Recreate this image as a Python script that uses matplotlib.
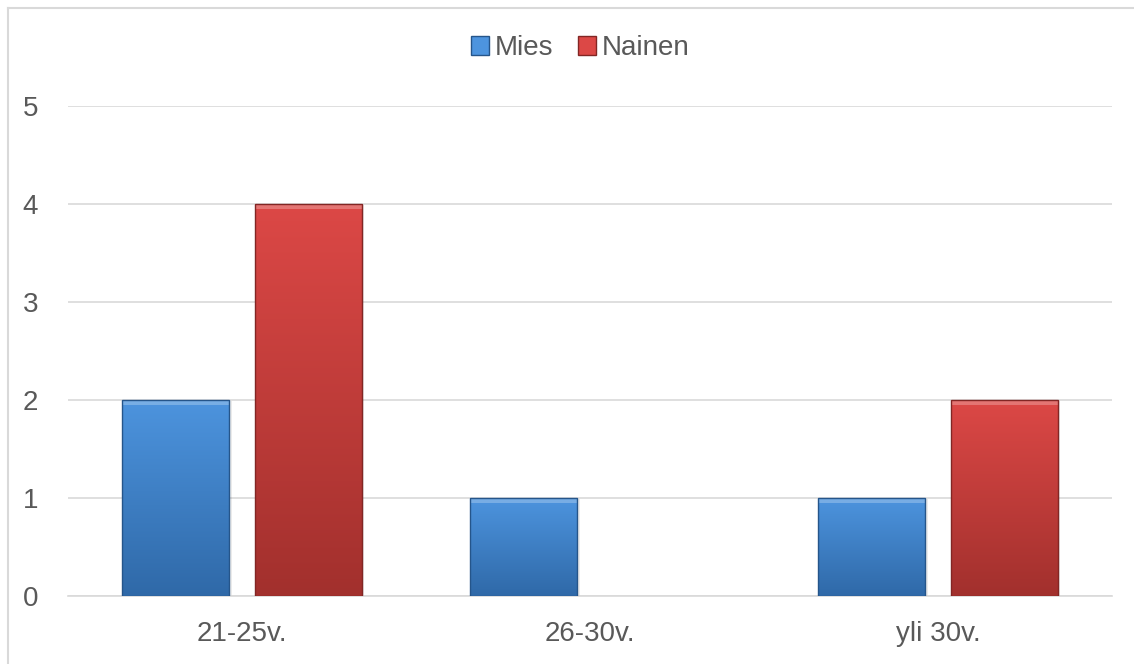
"""Excel-style grouped bar chart: age groups by gender."""

import matplotlib
matplotlib.use("Agg")
import matplotlib.pyplot as plt
import numpy as np
from matplotlib.colors import LinearSegmentedColormap
from matplotlib.lines import Line2D
from matplotlib.patches import Patch, Rectangle

CATEGORIES = ["21-25v.", "26-30v.", "yli 30v."]
SERIES = ["Mies", "Nainen"]
MIES = [2, 1, 1]
NAINEN = [4, 0, 2]

COLORS = {
    "Mies": ("#4d94de", "#2f69a8", "#25558a"),
    "Nainen": ("#dc4846", "#a2302d", "#822624"),
}
TEXT_COLOR = "#595959"
GRID_COLOR = "#d9d9d9"

plt.rcParams["font.family"] = ["Liberation Sans", "DejaVu Sans"]

fig = plt.figure(figsize=(11.34, 6.64), dpi=100)
ax = fig.add_axes([68 / 1134, 68 / 664, 1044 / 1134, 490 / 664])

x = np.arange(len(CATEGORIES))
width = 0.308
offset = 0.19


def gradient_bar(ax, xc, height, name):
    if height <= 0:
        return
    top, bottom, edge = COLORS[name]
    cmap = LinearSegmentedColormap.from_list(name, [bottom, top])
    left = xc - width / 2
    rect = Rectangle((left, 0), width, height, facecolor="none",
                     edgecolor=edge, linewidth=1.0, zorder=4)
    ax.add_patch(rect)
    grad = np.linspace(0, 1, 256).reshape(-1, 1)
    im = ax.imshow(grad, cmap=cmap, origin="lower", aspect="auto",
                   extent=(left, left + width, 0, height), zorder=3)
    im.set_clip_path(rect)
    # bevel highlight along top edge
    ax.add_patch(Rectangle((left, height - 0.05), width, 0.05,
                           facecolor="white", alpha=0.25, linewidth=0, zorder=3.5))
    # soft shadow
    ax.add_patch(Rectangle((left + 0.008, -0.01), width, height, facecolor="#000000",
                           alpha=0.08, linewidth=0, zorder=2.5))


for xi, m, n in zip(x, MIES, NAINEN):
    gradient_bar(ax, xi - offset, m, "Mies")
    gradient_bar(ax, xi + offset, n, "Nainen")

ax.set_xlim(-0.5, 2.5)
ax.set_ylim(0, 5)
ax.set_yticks(range(0, 6))
ax.set_xticks(x)
ax.set_xticklabels(CATEGORIES)
ax.tick_params(axis="both", length=0, labelsize=20, colors=TEXT_COLOR)
ax.tick_params(axis="y", pad=21.5)
ax.tick_params(axis="x", pad=18)
ax.grid(axis="y", color=GRID_COLOR, linewidth=1.2, zorder=0)
ax.set_axisbelow(True)
for side in ["top", "right", "left"]:
    ax.spines[side].set_visible(False)
ax.spines["bottom"].set_color(GRID_COLOR)
ax.spines["bottom"].set_linewidth(1.2)

handles = [Patch(facecolor=COLORS[s][0], edgecolor=COLORS[s][2], label=s) for s in SERIES]
fig.legend(handles=handles, loc="center", bbox_to_anchor=(580 / 1134, 1 - 48 / 664),
           ncol=2, frameon=False, fontsize=20, labelcolor=TEXT_COLOR,
           handlelength=0.65, handleheight=0.65, handletextpad=0.2, columnspacing=0.9)

# chart border (left and top only visible)
fig.add_artist(Line2D([8 / 1134, 8 / 1134], [0, 1 - 8 / 664], transform=fig.transFigure,
                      color="#d9d9d9", linewidth=1.5))
fig.add_artist(Line2D([8 / 1134, 1], [1 - 8 / 664, 1 - 8 / 664], transform=fig.transFigure,
                      color="#d9d9d9", linewidth=1.5))

fig.savefig("out.png", dpi=100)
